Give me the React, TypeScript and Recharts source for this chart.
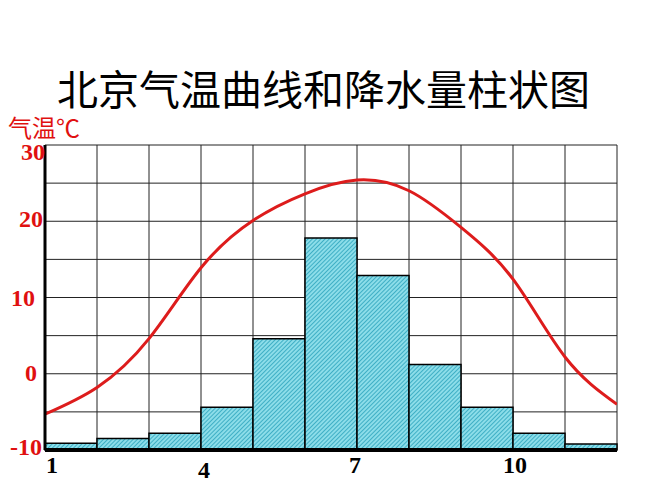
import React from "react";
import {
  ComposedChart,
  Bar,
  Line,
  XAxis,
  YAxis,
  CartesianGrid
} from "recharts";

// monthly mean temperature (°C)
const months = [1, 2, 3, 4, 5, 6, 7, 8, 9, 10, 11, 12];
const tempC = [-5.3, -1.8, 4.6, 13.9, 20.1, 23.6, 25.4, 24.0, 19.2, 12.4, 2.2, -4.0];

// precipitation bars (mm), no axis shown in the original
const barMonths = [1, 2, 3, 4, 5, 6, 7, 8, 9, 10, 11];
const precipMm = [9, 15, 22, 56, 146, 278, 229, 112, 56, 22, 8];

const monthTicks = [1, 2, 3, 4, 5, 6, 7, 8, 9, 10, 11, 12];
const monthLabels = [1, 4, 7, 10];
const tempTicks = [-10, -5, 0, 5, 10, 15, 20, 25, 30];
const tempLabels = [-10, 0, 10, 20, 30];

const tempData = months.map((m, i) => ({ m, t: tempC[i] }));
const barData = barMonths.map((m, i) => ({ m, p: precipMm[i] }));

const RED = "#e01010";

function MonthTick(props: any) {
  const { x, y, payload } = props;
  const v = payload.value;
  if (!monthLabels.includes(v)) return null;
  const dx: Record<number, number> = { 1: 7, 4: 3, 7: -2, 10: 2 };
  const dy = v === 4 ? 28 : 23;
  return (
    <text
      x={x + (dx[v] || 0)}
      y={y + dy}
      textAnchor="middle"
      fontFamily="'Liberation Serif', serif"
      fontWeight="bold"
      fontSize={24}
      fill="#000"
    >
      {v}
    </text>
  );
}

function TempTick(props: any) {
  const { x, y, payload } = props;
  const v = payload.value;
  if (!tempLabels.includes(v)) return null;
  const dx: Record<number, number> = { 30: 0, 20: -2, 10: -10, 0: -8, [-10]: -3 };
  const dy: Record<number, number> = { 30: 15, 20: 6, 10: 8, 0: 7, [-10]: 5 };
  return (
    <text
      x={x + (dx[v] ?? 0)}
      y={y + (dy[v] ?? 8)}
      textAnchor="end"
      fontFamily="'Liberation Serif', serif"
      fontWeight="bold"
      fontSize={24}
      fill={RED}
    >
      {v}
    </text>
  );
}

export default function App() {
  return (
    <div style={{ position: "relative", width: 651, height: 484, background: "#fff" }}>
      <div
        style={{
          position: "absolute",
          left: 49,
          top: 59,
          fontFamily: "'Noto Sans CJK SC', sans-serif",
          fontSize: 41,
          lineHeight: 1,
          whiteSpace: "nowrap",
          color: "#000"
        }}
      >
        北京气温曲线和降水量柱状图
      </div>
      <div
        style={{
          position: "absolute",
          left: 0,
          top: 107,
          fontFamily: "'Noto Sans CJK SC', sans-serif",
          fontSize: 24,
          lineHeight: 1,
          whiteSpace: "nowrap",
          color: RED
        }}
      >
        气温℃
      </div>
      <ComposedChart
        width={651}
        height={484}
        data={barData}
        barCategoryGap={0}
        barGap={0}
        margin={{ top: 137, right: 42, bottom: 0, left: 0 }}
        style={{ position: "absolute", left: 0, top: 0 }}
      >
        <defs>
          <pattern
            id="hatch"
            width="3"
            height="3"
            patternUnits="userSpaceOnUse"
            patternTransform="rotate(45)"
          >
            <rect width="3" height="3" fill="#8cdde9" />
            <line x1="0" y1="0" x2="0" y2="3" stroke="#1e9cb6" strokeWidth="1.4" />
          </pattern>
        </defs>
        <CartesianGrid
          xAxisId="line"
          yAxisId="t"
          stroke="#222"
          strokeWidth={1}
        />
        <XAxis
          xAxisId="bars"
          dataKey="m"
          type="category"
          orientation="top"
          height={0}
          tick={false}
          tickLine={false}
          axisLine={{ stroke: "#000", strokeWidth: 3 }}
        />
        <XAxis
          xAxisId="line"
          dataKey="m"
          type="number"
          domain={[1, 12]}
          ticks={monthTicks}
          allowDataOverflow
          height={42}
          tickSize={0}
          tickMargin={0}
          tickLine={false}
          tick={<MonthTick />}
          axisLine={{ stroke: "#000", strokeWidth: 4 }}
        />
        <YAxis
          yAxisId="t"
          type="number"
          domain={[-10, 30]}
          ticks={tempTicks}
          allowDataOverflow
          width={37}
          tickSize={0}
          tickMargin={0}
          tickLine={false}
          tick={<TempTick />}
          axisLine={{ stroke: "#000", strokeWidth: 3 }}
        />
        <YAxis
          yAxisId="p"
          orientation="right"
          type="number"
          domain={[0, 400]}
          width={0}
          tick={false}
          tickLine={false}
          axisLine={{ stroke: "#000", strokeWidth: 3 }}
        />
        <Bar
          xAxisId="bars"
          yAxisId="p"
          dataKey="p"
          fill="url(#hatch)"
          stroke="#000"
          strokeWidth={1.5}
          isAnimationActive={false}
        />
        <Line
          xAxisId="line"
          yAxisId="t"
          data={tempData}
          dataKey="t"
          type="natural"
          stroke="#dd1c1c"
          strokeWidth={3}
          dot={false}
          activeDot={false}
          isAnimationActive={false}
        />
      </ComposedChart>
    </div>
  );
}
